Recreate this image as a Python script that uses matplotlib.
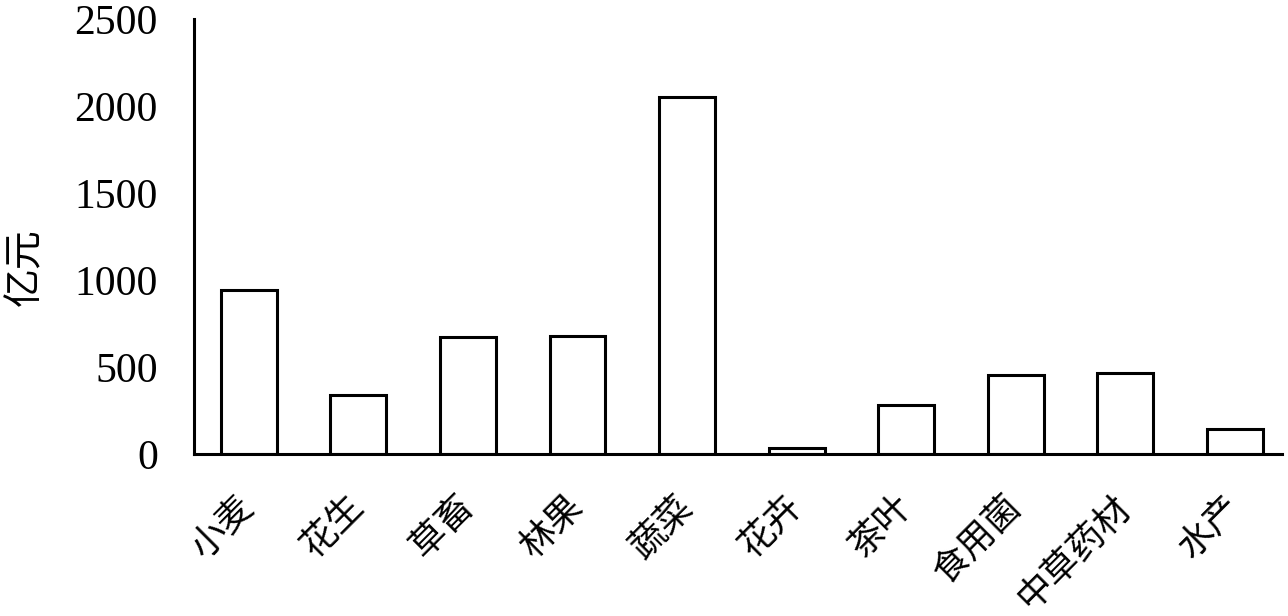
import matplotlib
matplotlib.use("Agg")
import matplotlib.pyplot as plt

categories = ["小麦", "花生", "草畜", "林果", "蔬菜", "花卉", "茶叶", "食用菌", "中草药材", "水产"]
values = [942, 339, 672, 678, 2050, 34, 282, 454, 466, 144]
yticks = [0, 500, 1000, 1500, 2000, 2500]

cjk = ["Noto Sans CJK SC", "DejaVu Sans"]

fig = plt.figure(figsize=(12.88, 6.16), dpi=100)
ax = fig.add_axes([0.1506, 0.263, 0.9953 - 0.1506, 0.969 - 0.263])

x = list(range(len(categories)))
ax.bar(x, values, width=0.51, facecolor="white", edgecolor="black", linewidth=2.2)

ax.set_xlim(-0.5, 9.43)
ax.set_ylim(0, 2500)
ax.set_yticks(yticks)
ax.set_yticklabels([str(v) for v in yticks], fontfamily="Liberation Serif", fontsize=30)
ax.set_xticks(x)
ax.set_xticklabels(categories, rotation=45, ha="right", va="center", rotation_mode="anchor",
                   fontfamily=cjk, fontsize=26)
ax.tick_params(axis="both", length=0)
ax.tick_params(axis="y", pad=26)
ax.tick_params(axis="x", pad=34)

for s in ["top", "right"]:
    ax.spines[s].set_visible(False)
for s in ["left", "bottom"]:
    ax.spines[s].set_linewidth(2.2)

ax.set_ylabel("亿元", fontfamily=cjk, fontsize=28)
ax.yaxis.set_label_coords(-0.137, 0.43)

fig.savefig("out.png", dpi=100)
